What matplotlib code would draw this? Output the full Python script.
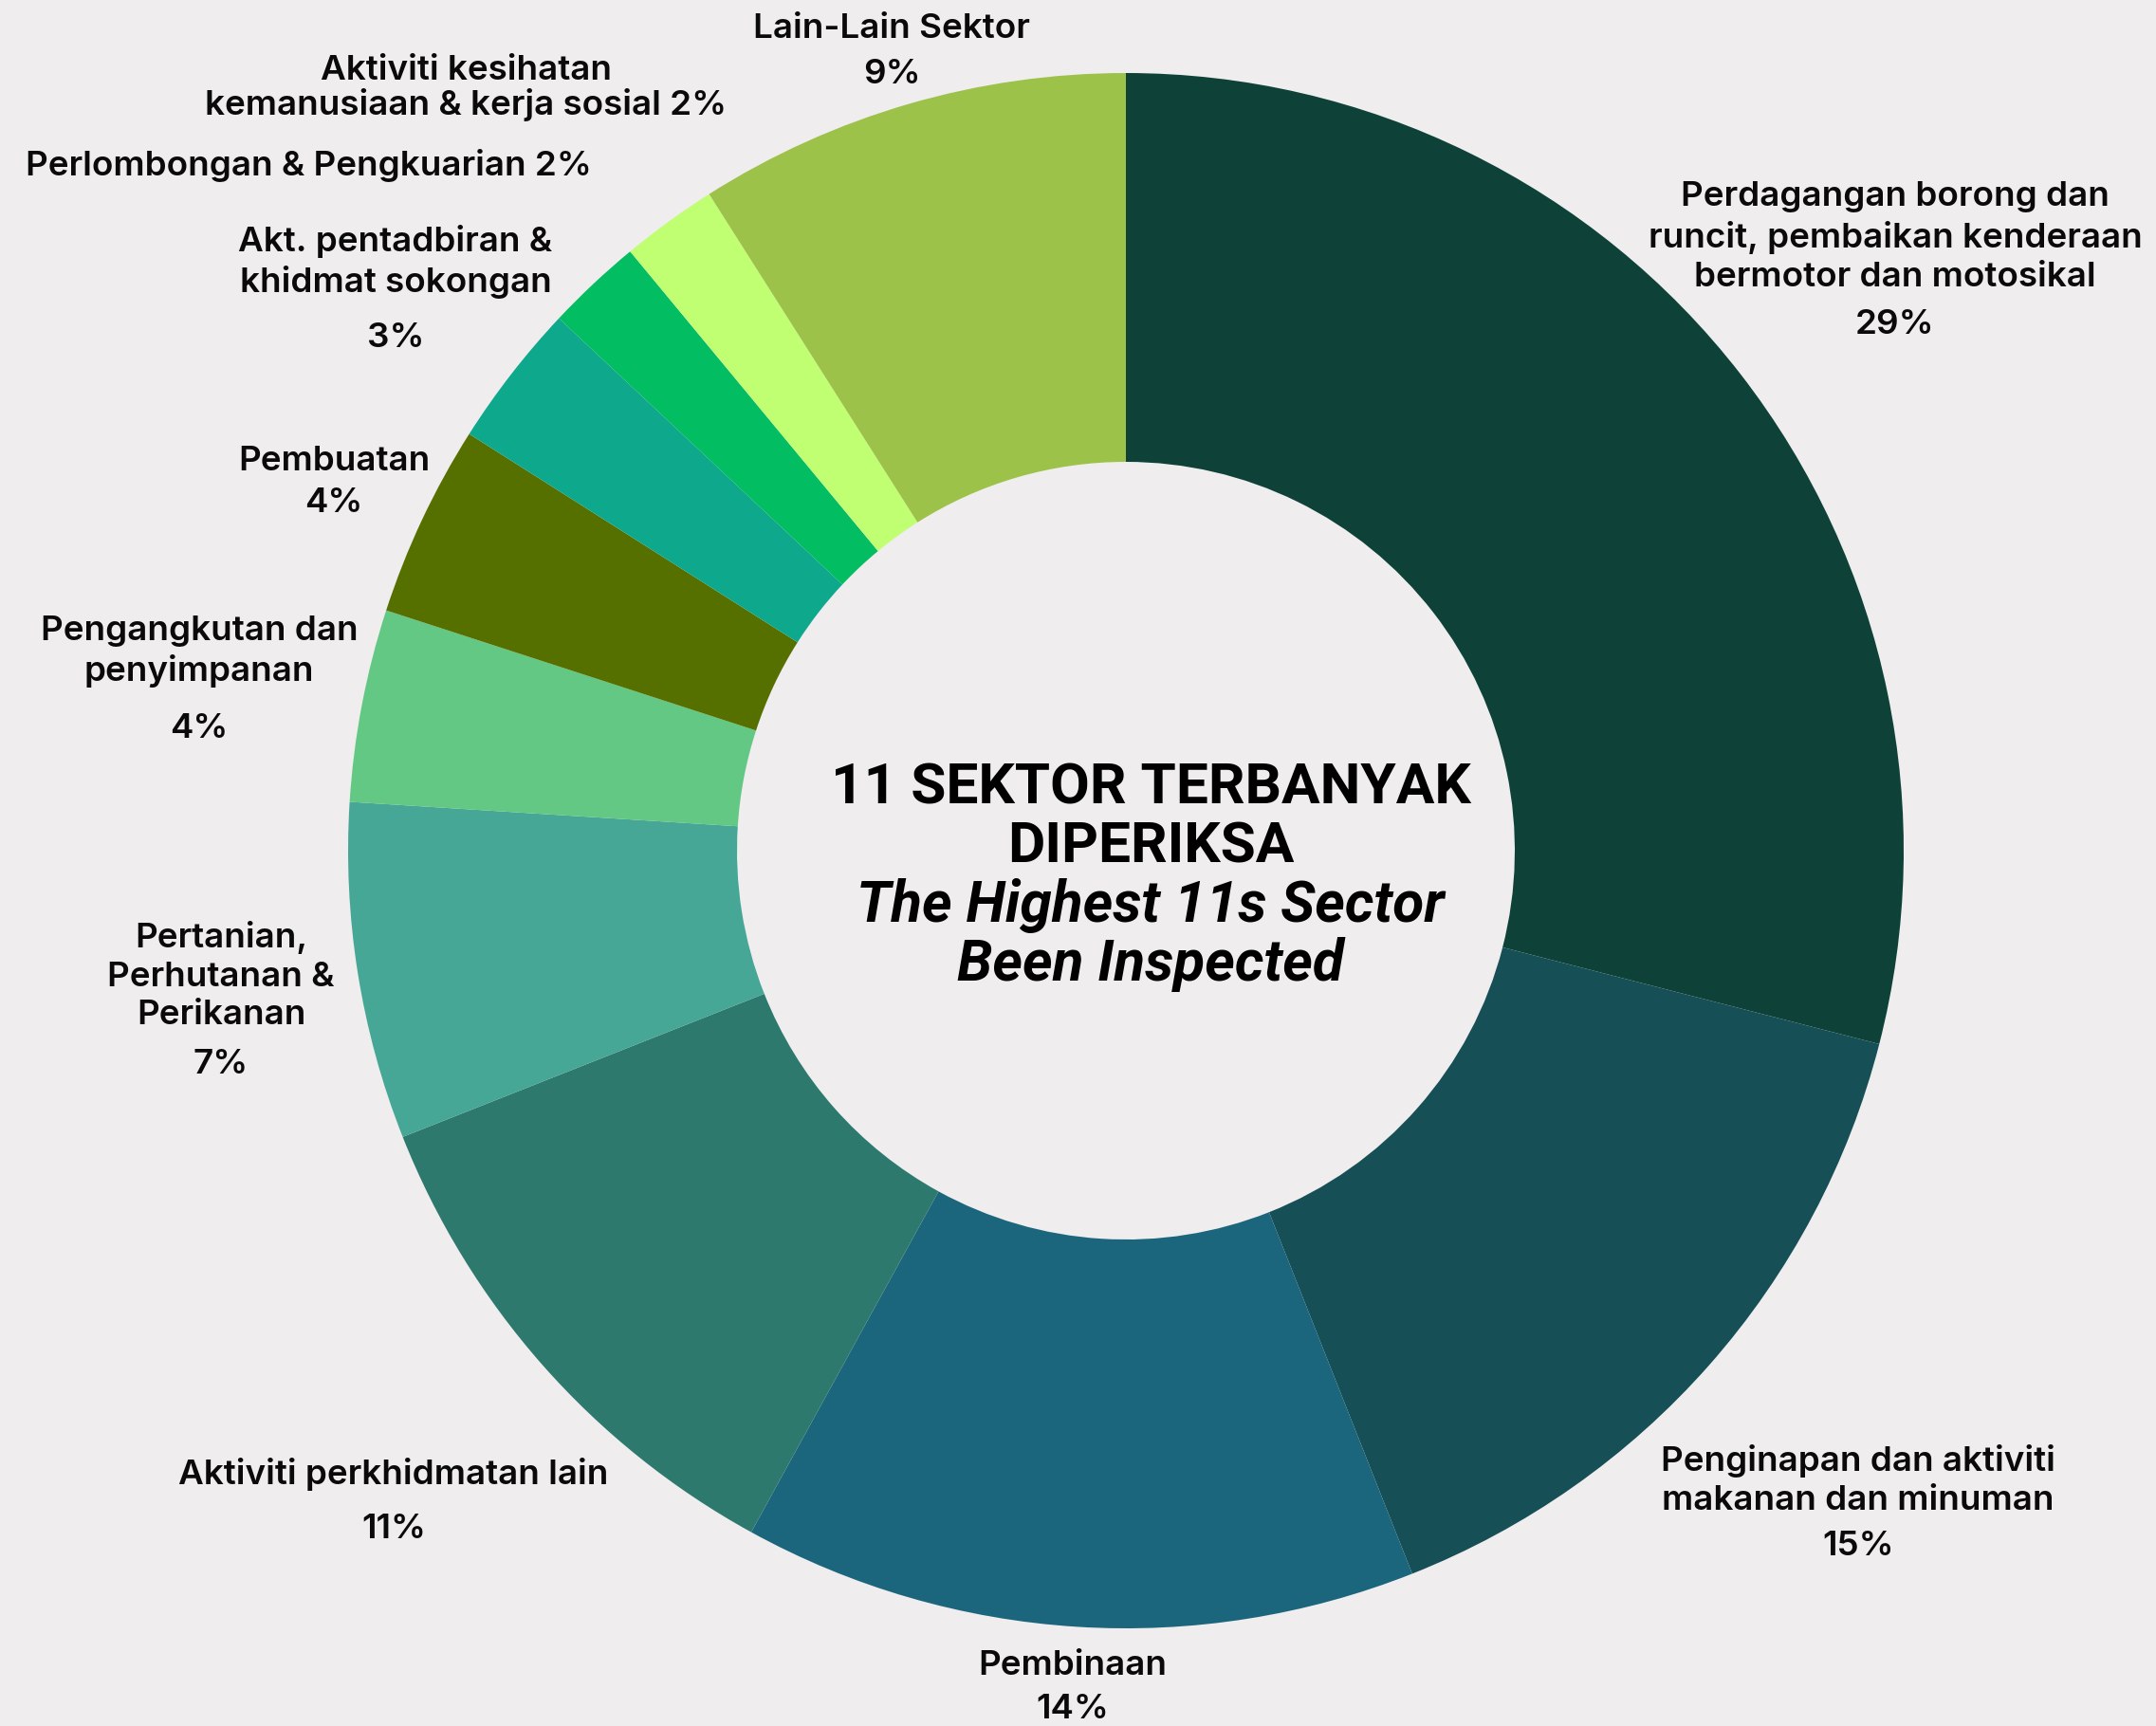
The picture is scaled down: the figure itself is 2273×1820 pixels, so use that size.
import matplotlib
matplotlib.use("Agg")
import matplotlib.pyplot as plt

# ---- data ----
sectors = [
    "Perdagangan borong dan\nruncit, pembaikan kenderaan\nbermotor dan motosikal",
    "Penginapan dan aktiviti\nmakanan dan minuman",
    "Pembinaan",
    "Aktiviti perkhidmatan lain",
    "Pertanian,\nPerhutanan &\nPerikanan",
    "Pengangkutan dan\npenyimpanan",
    "Pembuatan",
    "Akt. pentadbiran &\nkhidmat sokongan",
    "Perlombongan & Pengkuarian",
    "Aktiviti kesihatan\nkemanusiaan & kerja sosial",
    "Lain-Lain Sektor",
]
percent = [29, 15, 14, 11, 7, 4, 4, 3, 2, 2, 9]
colors = ["#0E4239", "#164F56", "#1C667D", "#2E796D", "#46A796", "#63C883",
          "#567000", "#0EA88D", "#02BD61", "#C1FF72", "#9DC24A"]
title_lines = ["11 SEKTOR TERBANYAK", "DIPERIKSA"]
subtitle_lines = ["The Highest 11s Sector", "Been Inspected"]

BG = "#EFEDEE"
W, H = 2273, 1820
fig = plt.figure(figsize=(W / 100, H / 100), dpi=100, facecolor=BG)
ax = fig.add_axes([0, 0, 1, 1])
ax.set_facecolor(BG)

cx, cy, R = 1187, H - 897, 820
ax.pie(percent, colors=colors, radius=R, center=(cx, cy), startangle=90,
       counterclock=False, frame=True,
       wedgeprops=dict(width=410, linewidth=0))
ax.set_xlim(0, W)
ax.set_ylim(0, H)
ax.set_aspect("equal")
ax.axis("off")

# label layout: (x, name-block center y, pct y) in pixels from top; inline pct flagged
lab_font = dict(family=["Inter", "DejaVu Sans"], fontweight="semibold",
                fontsize=26.5, color="#0A0A0A", ha="center", va="center")
layout = [
    (1998, 250, 343, False),
    (1959, 1561, 1630, False),
    (1131, 1757, 1802, False),
    (415, 1555, 1612, False),
    (233, 1029, 1122, False),
    (210, 687, 768, False),
    (352, 487, 531, False),
    (417, 276, 357, False),
    (325, 175, None, True),
    (491, 93, None, True),
    (940, 30, 78, False),
]
for name, p, (x, yn, yp, inline) in zip(sectors, percent, layout):
    if inline:
        ax.text(x, H - yn, f"{name} {p}%", linespacing=1.05, **lab_font)
    else:
        ax.text(x, H - yn, name, linespacing=1.3, **lab_font)
        ax.text(x, H - yp, f"{p}%", **lab_font)

tx = 1213
title_font = dict(family=["Roboto", "DejaVu Sans"], fontweight="bold",
                  fontsize=43.5, color="#000000", ha="center", va="center")
for line, y in zip(title_lines, [831, 893]):
    ax.text(tx, H - y, line, **title_font)
for line, y in zip(subtitle_lines, [955, 1017]):
    ax.text(tx, H - y, line, style="italic", **title_font)

fig.savefig("out.png", dpi=100, facecolor=BG)
